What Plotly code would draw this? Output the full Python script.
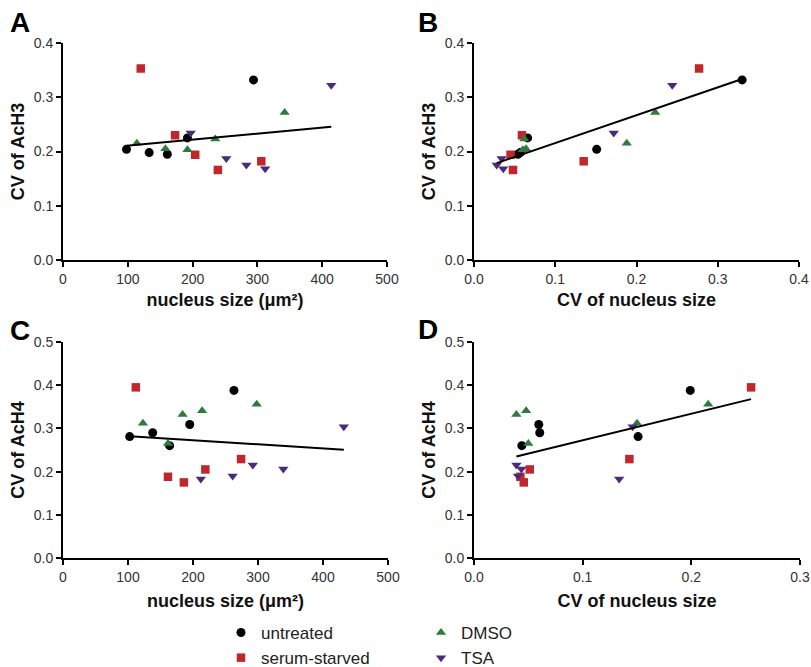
import numpy as np
import plotly.graph_objects as go

# ---------------- data ----------------
groups = ["untreated", "serum-starved", "DMSO", "TSA"]

# Panel A / B : CV of AcH3
size_A = {
    "untreated":     [98, 133, 161, 192, 294],
    "serum-starved": [120, 173, 204, 239, 306],
    "DMSO":          [114, 158, 192, 235, 342],
    "TSA":           [197, 252, 283, 312, 414],
}
cvsize_B = {
    "untreated":     [0.151, 0.057, 0.054, 0.066, 0.330],
    "serum-starved": [0.277, 0.059, 0.045, 0.048, 0.135],
    "DMSO":          [0.188, 0.064, 0.060, 0.062, 0.223],
    "TSA":           [0.172, 0.034, 0.028, 0.036, 0.244],
}
cv_ach3 = {
    "untreated":     [0.204, 0.198, 0.195, 0.225, 0.332],
    "serum-starved": [0.353, 0.230, 0.194, 0.166, 0.182],
    "DMSO":          [0.215, 0.205, 0.203, 0.223, 0.272],
    "TSA":           [0.234, 0.187, 0.175, 0.168, 0.322],
}

# Panel C / D : CV of AcH4
size_C = {
    "untreated":     [102.6, 138, 164, 195, 263],
    "serum-starved": [112, 161.5, 186, 219, 274],
    "DMSO":          [123, 161.5, 184, 214, 298],
    "TSA":           [212, 261, 292, 339, 432],
}
cvsize_D = {
    "untreated":     [0.151, 0.0605, 0.044, 0.0596, 0.199],
    "serum-starved": [0.255, 0.0427, 0.0458, 0.0513, 0.143],
    "DMSO":          [0.150, 0.050, 0.039, 0.048, 0.2155],
    "TSA":           [0.1336, 0.0405, 0.039, 0.0436, 0.146],
}
cv_ach4 = {
    "untreated":     [0.281, 0.290, 0.260, 0.309, 0.388],
    "serum-starved": [0.395, 0.188, 0.175, 0.205, 0.229],
    "DMSO":          [0.312, 0.265, 0.332, 0.341, 0.356],
    "TSA":           [0.183, 0.190, 0.215, 0.206, 0.304],
}

xticks_size = [0, 100, 200, 300, 400, 500]
xticks_B = [0.0, 0.1, 0.2, 0.3, 0.4]
xticks_D = [0.0, 0.1, 0.2, 0.3]
yticks_AB = [0.0, 0.1, 0.2, 0.3, 0.4]
yticks_CD = [0.0, 0.1, 0.2, 0.3, 0.4, 0.5]

# ---------------- styles ----------------
colors = {"untreated": "#000000", "serum-starved": "#c0272d",
          "DMSO": "#2e7b3c", "TSA": "#4a2a7a"}
symbols = {"untreated": "circle", "serum-starved": "square",
           "DMSO": "triangle-up", "TSA": "triangle-down"}
msize = {"untreated": 9, "serum-starved": 8.5, "DMSO": 9, "TSA": 9}
legend_of = {"untreated": "legend", "serum-starved": "legend",
             "DMSO": "legend2", "TSA": "legend2"}

FONT = "Liberation Sans, Arial, Helvetica, sans-serif"
W, H = 811, 667

fig = go.Figure()

panels = [
    ("A", size_A, cv_ach3, "x", "y"),
    ("B", cvsize_B, cv_ach3, "x2", "y2"),
    ("C", size_C, cv_ach4, "x3", "y3"),
    ("D", cvsize_D, cv_ach4, "x4", "y4"),
]

for pi, (name, xd, yd, xa, ya) in enumerate(panels):
    for g in groups:
        fig.add_trace(go.Scatter(
            x=xd[g], y=yd[g], mode="markers", name=g,
            xaxis=xa, yaxis=ya,
            marker=dict(symbol=symbols[g], color=colors[g], size=msize[g],
                        line=dict(width=0)),
            legendgroup=g, showlegend=(pi == 0), legend=legend_of[g],
            cliponaxis=False,
        ))
    # linear regression over all points in the panel
    allx = np.concatenate([xd[g] for g in groups])
    ally = np.concatenate([yd[g] for g in groups])
    k, b = np.polyfit(allx, ally, 1)
    lx = np.array([allx.min(), allx.max()])
    fig.add_trace(go.Scatter(
        x=lx, y=k * lx + b, mode="lines", xaxis=xa, yaxis=ya,
        line=dict(color="black", width=2), showlegend=False,
        hoverinfo="skip",
    ))

def px_x(p):
    return p / W

def px_y(p):
    return 1 - p / H

axis_common = dict(
    showline=True, linecolor="black", linewidth=2,
    ticks="outside", ticklen=5, tickwidth=2, tickcolor="black",
    showgrid=False, zeroline=False, mirror=False, automargin=False,
    tickfont=dict(family=FONT, size=14, color="#333333"),
    title_font=dict(family=FONT, size=18, color="#111111"),
    fixedrange=True,
)

dom = {
    "A": ([63, 387], [43, 260]),
    "B": ([474, 799], [43, 260]),
    "C": ([63, 388], [342, 558]),
    "D": ([474, 800], [342, 558]),
}

xinfo = {
    "A": ("nucleus size (μm²)", [0, 500], xticks_size, "d"),
    "B": ("CV of nucleus size", [0, 0.4], xticks_B, ".1f"),
    "C": ("nucleus size (μm²)", [0, 500], xticks_size, "d"),
    "D": ("CV of nucleus size", [0, 0.3], xticks_D, ".1f"),
}
yinfo = {
    "A": ("CV of AcH3", [0, 0.4], yticks_AB),
    "B": ("CV of AcH3", [0, 0.4], yticks_AB),
    "C": ("CV of AcH4", [0, 0.5], yticks_CD),
    "D": ("CV of AcH4", [0, 0.5], yticks_CD),
}

layout = {}
for i, name in enumerate(["A", "B", "C", "D"]):
    sx = "" if i == 0 else str(i + 1)
    (x0, x1), (y0, y1) = dom[name]
    xt, xr, xtv, xf = xinfo[name]
    yt, yr, ytv = yinfo[name]
    layout["xaxis" + sx] = dict(
        axis_common, domain=[px_x(x0), px_x(x1)], range=xr,
        tickvals=xtv, tickformat=xf, anchor="y" + sx,
        title=dict(text="<b>%s</b>" % xt, standoff=8 if i < 2 else 11),
    )
    layout["yaxis" + sx] = dict(
        axis_common, domain=[px_y(y1), px_y(y0)], range=yr,
        tickvals=ytv, tickformat=".1f", anchor="x" + sx,
        title=dict(text="<b>%s</b>" % yt, standoff=4),
    )

fig.update_layout(**layout)

# panel letters
letters = [("A", 8, 23), ("B", 416, 23), ("C", 8, 331), ("D", 416, 329)]
for t, lx_, ly_ in letters:
    fig.add_annotation(
        text="<b>%s</b>" % t, xref="paper", yref="paper",
        x=px_x(lx_), y=px_y(ly_), xanchor="left", yanchor="middle",
        showarrow=False, font=dict(family=FONT, size=28, color="black"),
    )

legend_style = dict(
    font=dict(family=FONT, size=17, color="#222222"),
    bgcolor="rgba(0,0,0,0)", orientation="v",
    xanchor="left", yanchor="top", tracegroupgap=0,
    itemclick=False, itemdoubleclick=False,
)

fig.update_layout(
    width=W, height=H,
    margin=dict(l=0, r=0, t=0, b=0, autoexpand=False),
    paper_bgcolor="white", plot_bgcolor="white",
    font=dict(family=FONT),
    legend=dict(legend_style, x=px_x(221), y=px_y(615)),
    legend2=dict(legend_style, x=px_x(421), y=px_y(615)),
)

fig.write_html(
    "out.html",
    config={"displayModeBar": False},
    post_script="document.body.style.margin='0px';"
                "document.body.style.overflow='hidden';",
)
